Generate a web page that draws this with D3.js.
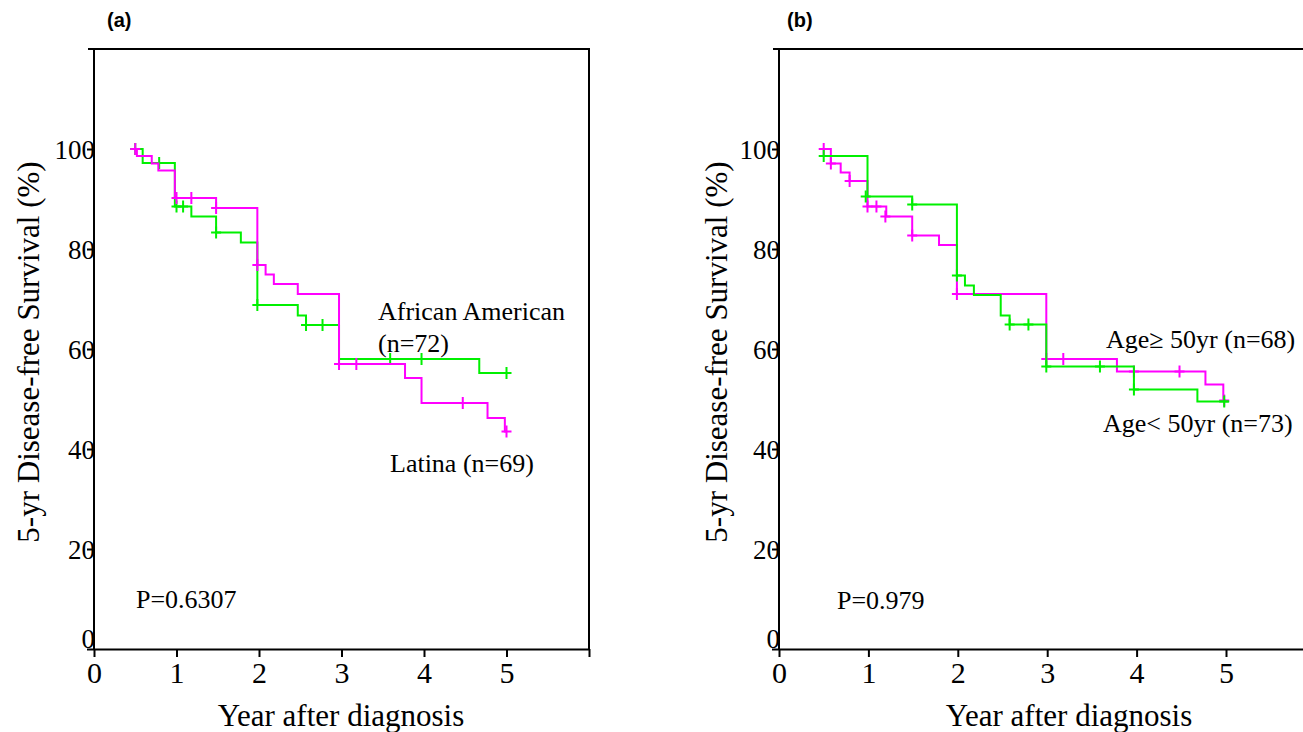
<!DOCTYPE html>
<html>
<head>
<meta charset="utf-8">
<script src="https://cdn.jsdelivr.net/npm/d3@7"></script>
<style>
  html, body { margin: 0; padding: 0; background: #fff; }
  svg { display: block; }
</style>
</head>
<body>
<svg id="chart" width="1303" height="732"></svg>
<script>
// ---------- DATA ----------
const xTicks = [0, 1, 2, 3, 4, 5, 6];
const yTicks = [0, 20, 40, 60, 80, 100];

// Panel (a): African American (green, n=72)
const aaTimes = [0.5, 0.59, 0.98, 1.18, 1.48, 1.78, 1.98, 2.47, 2.57, 2.97, 4.67, 5.0];
const aaSurv  = [100, 97.2, 88.5, 86.5, 83.3, 81.3, 68.8, 66.7, 64.8, 58.0, 55.2, 55.2];
const aaCensT = [0.5, 0.79, 1.0, 1.08, 1.48, 1.98, 2.57, 2.77, 3.59, 3.97, 5.0];
const aaCensS = [100, 97.2, 88.5, 88.5, 83.3, 68.8, 64.8, 64.8, 58.0, 58.0, 55.2];

// Panel (a): Latina (magenta, n=69)
const laTimes = [0.5, 0.52, 0.70, 0.78, 0.98, 1.48, 1.98, 2.08, 2.18, 2.47, 2.97, 3.77, 3.97, 4.77, 4.98, 5.0];
const laSurv  = [100, 98.6, 97.1, 95.7, 90.2, 88.2, 76.8, 74.9, 73.0, 71.0, 57.0, 54.2, 49.2, 46.2, 43.5, 43.5];
const laCensT = [0.5, 1.0, 1.18, 1.48, 1.98, 2.97, 3.18, 4.47, 5.0];
const laCensS = [100, 90.2, 90.2, 88.2, 76.8, 57.0, 57.0, 49.2, 43.5];

// Panel (b): Age >= 50yr (magenta, n=68)
const geTimes = [0.5, 0.58, 0.69, 0.79, 0.99, 1.2, 1.49, 1.79, 1.99, 2.99, 3.78, 4.77, 4.97, 5.0];
const geSurv  = [100, 97.1, 95.3, 93.6, 88.5, 86.5, 82.7, 80.8, 71.0, 58.0, 55.5, 52.9, 49.7, 49.7];
const geCensT = [0.5, 0.58, 0.79, 0.99, 1.09, 1.19, 1.49, 1.99, 2.99, 3.18, 3.97, 4.48, 4.98];
const geCensS = [100, 97.1, 93.6, 88.5, 88.5, 86.5, 82.7, 71.0, 58.0, 58.0, 55.5, 55.5, 49.7];

// Panel (b): Age < 50yr (green, n=73)
const ltTimes = [0.5, 0.99, 1.49, 1.99, 2.08, 2.18, 2.48, 2.58, 2.99, 3.97, 4.68, 5.03];
const ltSurv  = [98.6, 90.5, 88.9, 74.7, 72.7, 70.8, 66.7, 64.9, 56.5, 51.9, 49.5, 49.5];
const ltCensT = [0.5, 0.97, 1.49, 1.99, 2.58, 2.79, 2.99, 3.59, 3.97, 4.98];
const ltCensS = [98.6, 90.5, 88.9, 74.7, 64.9, 64.9, 56.5, 56.5, 51.9, 49.5];

const yTitle = "5-yr Disease-free Survival (%)";
const xTitle = "Year after diagnosis";

// ---------- DRAW ----------
const GREEN = "#00f000";
const MAGENTA = "#ff00ff";
const SERIF = "'Liberation Serif','Times New Roman',Times,serif";
const svg = d3.select("#chart");

function drawPanel(o) {
  const x = d3.scaleLinear().domain([0, 6]).range(o.xRange);
  const y = d3.scaleLinear().domain([0, 100]).range([649, 149]);
  const yTop = y(120);
  const g = svg.append("g");

  // frame
  g.append("path")
    .attr("d", `M${x(0) - 6},${yTop} H${x(6)} V${y(0)} M${x(0)},${yTop} V${y(0)}`)
    .attr("fill", "none").attr("stroke", "#000").attr("stroke-width", 2);

  // x axis
  const ax = g.append("g").attr("transform", `translate(0,${y(0)})`)
    .call(d3.axisBottom(x).tickValues(xTicks).tickFormat(d => d === 6 ? "" : d)
      .tickSize(8).tickSizeOuter(0).tickPadding(5));
  ax.select(".domain").attr("stroke-width", 2);
  ax.selectAll(".tick line").attr("stroke-width", 2);
  ax.selectAll("text").attr("font-family", SERIF).attr("font-size", 30).attr("fill", "#000");

  // y axis
  const ay = g.append("g").attr("transform", `translate(${x(0)},0)`)
    .call(d3.axisLeft(y).tickValues(yTicks).tickSize(7).tickSizeOuter(0).tickPadding(-8));
  ay.select(".domain").remove();
  ay.selectAll(".tick line").attr("stroke-width", 2);
  ay.selectAll("text").attr("font-family", SERIF).attr("font-size", 27).attr("fill", "#000")
    .attr("dy", d => d === 0 ? "-0.07em" : "0.36em");

  // curves
  const line = d3.line().x(d => x(d[0])).y(d => y(d[1])).curve(d3.curveStepAfter);
  o.series.forEach(s => {
    g.append("path").datum(d3.zip(s.t, s.s)).attr("d", line)
      .attr("fill", "none").attr("stroke", s.color).attr("stroke-width", 2);
    g.append("g").selectAll("path").data(d3.zip(s.ct, s.cs)).join("path")
      .attr("d", d => {
        const cx = x(d[0]), cy = y(d[1]);
        return `M${cx - 5},${cy} H${cx + 5} M${cx},${cy - 6} V${cy + 6}`;
      })
      .attr("fill", "none").attr("stroke", s.color).attr("stroke-width", 2);
  });

  // panel letter
  g.append("text").attr("x", o.letterX).attr("y", 27).text(o.letter)
    .attr("font-family", "'Liberation Sans',Arial,sans-serif").attr("font-weight", "bold")
    .attr("font-size", 20).attr("fill", "#000");

  // axis titles
  g.append("text").attr("transform", `translate(${o.yTitleX},352) rotate(-90)`)
    .attr("text-anchor", "middle").attr("dominant-baseline", "central")
    .attr("font-family", SERIF).attr("font-size", 31).attr("fill", "#000").text(yTitle);
  g.append("text").attr("x", o.xTitleX).attr("y", 726).attr("text-anchor", "middle")
    .attr("font-family", SERIF).attr("font-size", 31).attr("fill", "#000").text(xTitle);

  // annotations
  o.notes.forEach(n => {
    g.append("text").attr("x", n[1]).attr("y", n[2]).text(n[0])
      .attr("font-family", SERIF).attr("font-size", 26).attr("fill", "#000");
  });
}

drawPanel({
  xRange: [94, 589], letter: "(a)", letterX: 107, yTitleX: 28, xTitleX: 341,
  series: [
    { t: aaTimes, s: aaSurv, ct: aaCensT, cs: aaCensS, color: GREEN },
    { t: laTimes, s: laSurv, ct: laCensT, cs: laCensS, color: MAGENTA }
  ],
  notes: [["African American", 378, 320], ["(n=72)", 378, 352], ["Latina (n=69)", 390, 472], ["P=0.6307", 136, 608]]
});

drawPanel({
  xRange: [779, 1315.4], letter: "(b)", letterX: 787, yTitleX: 716, xTitleX: 1069,
  series: [
    { t: geTimes, s: geSurv, ct: geCensT, cs: geCensS, color: MAGENTA },
    { t: ltTimes, s: ltSurv, ct: ltCensT, cs: ltCensS, color: GREEN }
  ],
  notes: [["Age\u2265 50yr (n=68)", 1106, 348], ["Age< 50yr (n=73)", 1103, 432], ["P=0.979", 837, 609]]
});
</script>
</body>
</html>
